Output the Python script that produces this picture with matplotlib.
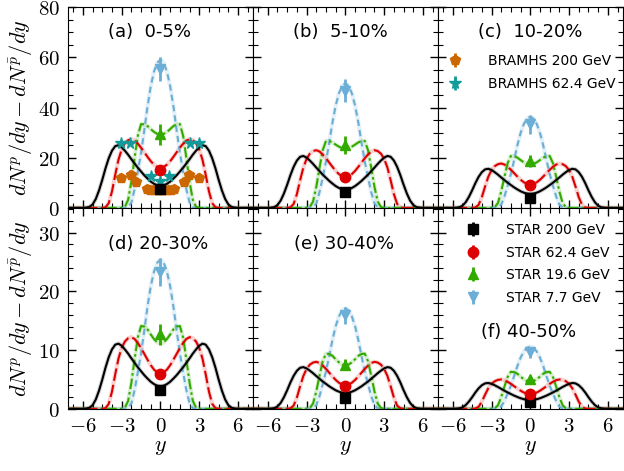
import numpy as np
import matplotlib.pyplot as plt
from matplotlib.ticker import MultipleLocator, FuncFormatter

plt.rcParams['mathtext.fontset'] = 'cm'
plt.rcParams['font.family'] = 'DejaVu Sans'

# === Data ===
PANEL_LABELS = ['(a)  0-5%', '(b)  5-10%', '(c)  10-20%',
                '(d) 20-30%', '(e) 30-40%', '(f) 40-50%']

# model curves, half profile (y >= 0) sampled every 0.25 in rapidity
Y_STEP = 0.25
MODEL_200 = [
    [8.8, 9.0, 9.6, 10.5, 11.7, 13.0, 14.5, 16.0, 17.7, 19.4, 21.2, 22.8, 24.2, 25.0,
     24.6, 22.8, 19.8, 15.8, 11.2, 7.0, 3.6, 1.4, 0.4, 0.1, 0.0],
    [7.3, 7.46, 7.96, 8.71, 9.70, 10.77, 12.02, 13.25, 14.66, 16.06, 17.55, 18.88, 20.04, 20.7,
     20.37, 18.88, 16.39, 13.08, 9.27, 5.80, 2.98, 1.16, 0.33, 0.08, 0.0],
    [5.6, 5.72, 6.09, 6.65, 7.39, 8.19, 9.12, 10.04, 11.09, 12.14, 13.25, 14.24, 15.11, 15.6,
     15.35, 14.23, 12.36, 9.86, 6.99, 4.37, 2.25, 0.87, 0.25, 0.06, 0.0],
    [3.85, 3.94, 4.21, 4.61, 5.15, 5.73, 6.40, 7.07, 7.83, 8.59, 9.40, 10.11, 10.74, 11.1,
     10.92, 10.12, 8.79, 7.02, 4.97, 3.11, 1.60, 0.62, 0.18, 0.04, 0.0],
    [2.70, 2.75, 2.92, 3.16, 3.49, 3.84, 4.25, 4.65, 5.12, 5.58, 6.07, 6.50, 6.88, 7.1,
     6.99, 6.48, 5.62, 4.49, 3.18, 1.99, 1.02, 0.40, 0.11, 0.03, 0.0],
    [1.50, 1.53, 1.64, 1.80, 2.02, 2.25, 2.52, 2.79, 3.09, 3.40, 3.72, 4.01, 4.26, 4.4,
     4.33, 4.01, 3.48, 2.78, 1.97, 1.23, 0.63, 0.25, 0.07, 0.02, 0.0],
]
MODEL_624 = [
    [16.0, 16.34, 17.25, 18.62, 20.33, 22.16, 23.98, 25.58, 26.83, 27.4,
     26.99, 25.76, 23.29, 19.18, 13.15, 6.58, 1.92, 0.27, 0.0],
    [12.3, 12.62, 13.48, 14.76, 16.37, 18.08, 19.79, 21.29, 22.47, 23.0,
     22.66, 21.62, 19.55, 16.1, 11.04, 5.52, 1.61, 0.23, 0.0],
    [9.3, 9.55, 10.22, 11.23, 12.49, 13.84, 15.18, 16.36, 17.28, 17.7,
     17.43, 16.64, 15.05, 12.39, 8.50, 4.25, 1.24, 0.18, 0.0],
    [6.0, 6.19, 6.68, 7.43, 8.36, 9.35, 10.34, 11.21, 11.89, 12.2,
     12.02, 11.47, 10.37, 8.54, 5.86, 2.93, 0.85, 0.12, 0.0],
    [4.0, 4.12, 4.44, 4.92, 5.52, 6.16, 6.8, 7.36, 7.8, 8.0,
     7.88, 7.52, 6.8, 5.6, 3.84, 1.92, 0.56, 0.08, 0.0],
    [2.5, 2.58, 2.78, 3.08, 3.45, 3.85, 4.25, 4.6, 4.88, 5.0,
     4.93, 4.7, 4.25, 3.5, 2.4, 1.2, 0.35, 0.05, 0.0],
]
MODEL_196 = [
    [29.2, 29.49, 30.29, 31.38, 32.6, 33.27, 33.4, 28.79, 20.01, 10.49, 3.21, 0.5, 0.0],
    [23.6, 23.82, 24.41, 25.21, 26.11, 26.61, 26.7, 23.02, 15.99, 8.38, 2.56, 0.4, 0.0],
    [17.3, 17.54, 18.18, 19.07, 20.05, 20.6, 20.7, 17.84, 12.40, 6.50, 1.99, 0.31, 0.0],
    [11.1, 11.31, 11.88, 12.66, 13.53, 14.01, 14.1, 12.15, 8.45, 4.43, 1.35, 0.21, 0.0],
    [7.4, 7.54, 7.92, 8.44, 9.02, 9.34, 9.4, 8.10, 5.63, 2.95, 0.90, 0.14, 0.0],
    [4.6, 4.72, 5.04, 5.48, 5.98, 6.25, 6.3, 5.43, 3.77, 1.98, 0.60, 0.09, 0.0],
]
MODEL_77 = [
    [59.0, 57.82, 54.28, 48.5, 40.47, 30.98, 22.01, 14.51, 7.49, 2.18, 0.3, 0.0],
    [49.6, 48.61, 45.63, 40.77, 34.03, 26.04, 18.5, 12.2, 6.3, 1.84, 0.25, 0.0],
    [36.3, 35.57, 33.4, 29.84, 24.9, 19.06, 13.54, 8.93, 4.61, 1.34, 0.18, 0.0],
    [25.4, 24.89, 23.37, 20.88, 17.42, 13.34, 9.47, 6.25, 3.23, 0.94, 0.13, 0.0],
    [17.1, 16.76, 15.73, 14.06, 11.73, 8.98, 6.38, 4.21, 2.17, 0.63, 0.09, 0.0],
    [10.6, 10.39, 9.75, 8.71, 7.27, 5.57, 3.95, 2.61, 1.35, 0.39, 0.05, 0.0],
]

# STAR midrapidity points (one per centrality)
STAR_200 = [7.5, 6.4, 4.0, 3.2, 1.8, 1.2]
STAR_200_ERR = [0.7, 0.6, 0.5, 0.4, 0.3, 0.2]
STAR_624 = [15.3, 12.3, 9.3, 6.0, 3.85, 2.5]
STAR_624_ERR = [1.2, 1.0, 0.8, 0.6, 0.4, 0.3]
STAR_196 = [29.3, 25.0, 18.7, 12.7, 7.5, 5.0]
STAR_196_ERR = [4.3, 3.6, 2.3, 1.8, 0.9, 0.6]
STAR_77 = [55.3, 46.7, 33.3, 23.3, 15.9, 9.6]
STAR_77_ERR = [4.7, 4.6, 3.7, 2.4, 1.5, 0.9]

# BRAHMS 0-5%
BRAHMS_200_Y = [-3.03, -2.26, -1.92, -1.05, -0.8, -0.55, -0.3, -0.1,
                0.1, 0.3, 0.55, 0.8, 1.05, 1.85, 2.23, 3.0]
BRAHMS_200 = [12.1, 13.2, 10.4, 7.4, 7.2, 7.0, 7.3, 7.1,
              7.1, 7.3, 7.0, 7.2, 7.4, 10.4, 13.2, 12.1]
BRAHMS_200_ERR = [2.0, 2.0, 1.8, 1.3, 1.2, 1.2, 1.2, 1.2,
                  1.2, 1.2, 1.2, 1.2, 1.3, 1.8, 2.0, 2.0]
BRAHMS_624_Y = [-3.03, -2.33, -0.72, 0.0, 0.64, 2.3, 3.0]
BRAHMS_624 = [25.7, 25.7, 12.8, 10.8, 12.8, 25.7, 25.7]

XMAX = 7.15
YTOP = [80, 34.2]

C_BLACK = 'black'
C_RED = '#dd0000'
C_GREEN = '#33aa00'
C_BLUE = '#6baed6'
C_ORANGE = '#cc6600'
C_TEAL = '#139a9a'


def full_curve(half):
    h = np.array(half)
    xs = Y_STEP * np.arange(len(h))
    x = np.concatenate([[-XMAX], -xs[::-1], xs[1:], [XMAX]])
    y = np.concatenate([[0.0], h[::-1], h[1:], [0.0]])
    return x, y


def draw_model(ax, half, color, dashes):
    x, y = full_curve(half)
    ax.plot(x, y, color=color, lw=3.0, alpha=0.18, zorder=2)
    if dashes is None:
        ax.plot(x, y, color=color, lw=1.5, zorder=3)
    else:
        ax.plot(x, y, color=color, lw=1.5, dashes=dashes, zorder=3)


def cm_tick(v, pos):
    return r'$%d$' % round(v)


fig, axes = plt.subplots(2, 3, figsize=(6.24, 4.71), dpi=100,
                         sharex=True, sharey='row')
fig.subplots_adjust(left=0.109, right=0.998, top=0.985, bottom=0.132,
                    wspace=0, hspace=0)

label_pos = [(0.44, 0.875), (0.475, 0.875), (0.50, 0.875),
             (0.49, 0.82), (0.49, 0.82), (0.49, 0.38)]

for i, ax in enumerate(axes.flat):
    row = i // 3
    draw_model(ax, MODEL_77[i], C_BLUE, (3, 2))
    draw_model(ax, MODEL_196[i], C_GREEN, (5, 1.5, 1.2, 1.5))
    draw_model(ax, MODEL_624[i], C_RED, (6, 2))
    draw_model(ax, MODEL_200[i], C_BLACK, None)

    h200 = ax.errorbar([0], [STAR_200[i]], yerr=[STAR_200_ERR[i]], fmt='s', color=C_BLACK,
                       ms=6.5, elinewidth=2, capsize=0, zorder=6, label='STAR 200 GeV')
    h624 = ax.errorbar([0], [STAR_624[i]], yerr=[STAR_624_ERR[i]], fmt='o', color=C_RED,
                       ms=7.5, elinewidth=2, capsize=0, zorder=6, label='STAR 62.4 GeV')
    h196 = ax.errorbar([0], [STAR_196[i]], yerr=[STAR_196_ERR[i]], fmt='^', color=C_GREEN,
                       ms=7.5, elinewidth=2, capsize=0, zorder=6, label='STAR 19.6 GeV')
    h77 = ax.errorbar([0], [STAR_77[i]], yerr=[STAR_77_ERR[i]], fmt='v', color=C_BLUE,
                      ms=7.5, elinewidth=2, capsize=0, zorder=6, label='STAR 7.7 GeV')

    if i == 0:
        ax.errorbar(BRAHMS_200_Y, BRAHMS_200, yerr=BRAHMS_200_ERR, fmt='p', color=C_ORANGE,
                    ecolor='#f2c9a6', ms=7.5, elinewidth=3, capsize=0, zorder=5)
        ax.plot(BRAHMS_624_Y, BRAHMS_624, '*', color=C_TEAL, ms=8.5, zorder=5)

    if i == 2:
        b1 = ax.errorbar([], [], yerr=[], fmt='p', color=C_ORANGE, ms=7.5,
                         elinewidth=2, capsize=0, label='BRAMHS 200 GeV')
        b2 = ax.errorbar([], [], yerr=[], fmt='*', color=C_TEAL, ms=8.5,
                         elinewidth=2, capsize=0, label='BRAMHS 62.4 GeV')
        ax.legend(handles=[b1, b2], loc='upper left', bbox_to_anchor=(0.055, 0.765),
                  frameon=False, fontsize=10, handlelength=1.0, handletextpad=1.9,
                  labelspacing=0.6, borderpad=0, borderaxespad=0)
    if i == 5:
        ax.legend(handles=[h200, h624, h196, h77], loc='upper left',
                  bbox_to_anchor=(0.15, 0.925), frameon=False, fontsize=10,
                  handlelength=1.0, handletextpad=1.9, labelspacing=0.62,
                  borderpad=0, borderaxespad=0)

    ax.text(label_pos[i][0], label_pos[i][1], PANEL_LABELS[i], transform=ax.transAxes,
            ha='center', va='center', fontsize=13)

    ax.set_xlim(-XMAX, XMAX)
    ax.set_ylim(0, YTOP[row])
    ax.xaxis.set_major_locator(MultipleLocator(3))
    ax.xaxis.set_minor_locator(MultipleLocator(0.75))
    ax.xaxis.set_major_formatter(FuncFormatter(cm_tick))
    ax.yaxis.set_major_formatter(FuncFormatter(cm_tick))
    if row == 0:
        ax.yaxis.set_major_locator(MultipleLocator(20))
        ax.yaxis.set_minor_locator(MultipleLocator(5))
    else:
        ax.yaxis.set_major_locator(MultipleLocator(10))
        ax.yaxis.set_minor_locator(MultipleLocator(2))
    ax.tick_params(which='both', direction='in', top=True, right=True, labelsize=15)
    ax.tick_params(which='major', length=6, width=1)
    ax.tick_params(which='minor', length=3.5, width=0.8)
    ax.tick_params(axis='x', pad=5)
    ax.tick_params(axis='y', pad=6)
    if row == 1:
        ax.set_xlabel('$y$', fontsize=16, labelpad=1)

for ax in axes[:, 0]:
    ax.set_ylabel(r'$dN^{p}/dy - dN^{\bar{p}}/dy$', fontsize=16)
    ax.yaxis.set_label_coords(-0.18, 0.5)

fig.savefig('out.png', dpi=100)
